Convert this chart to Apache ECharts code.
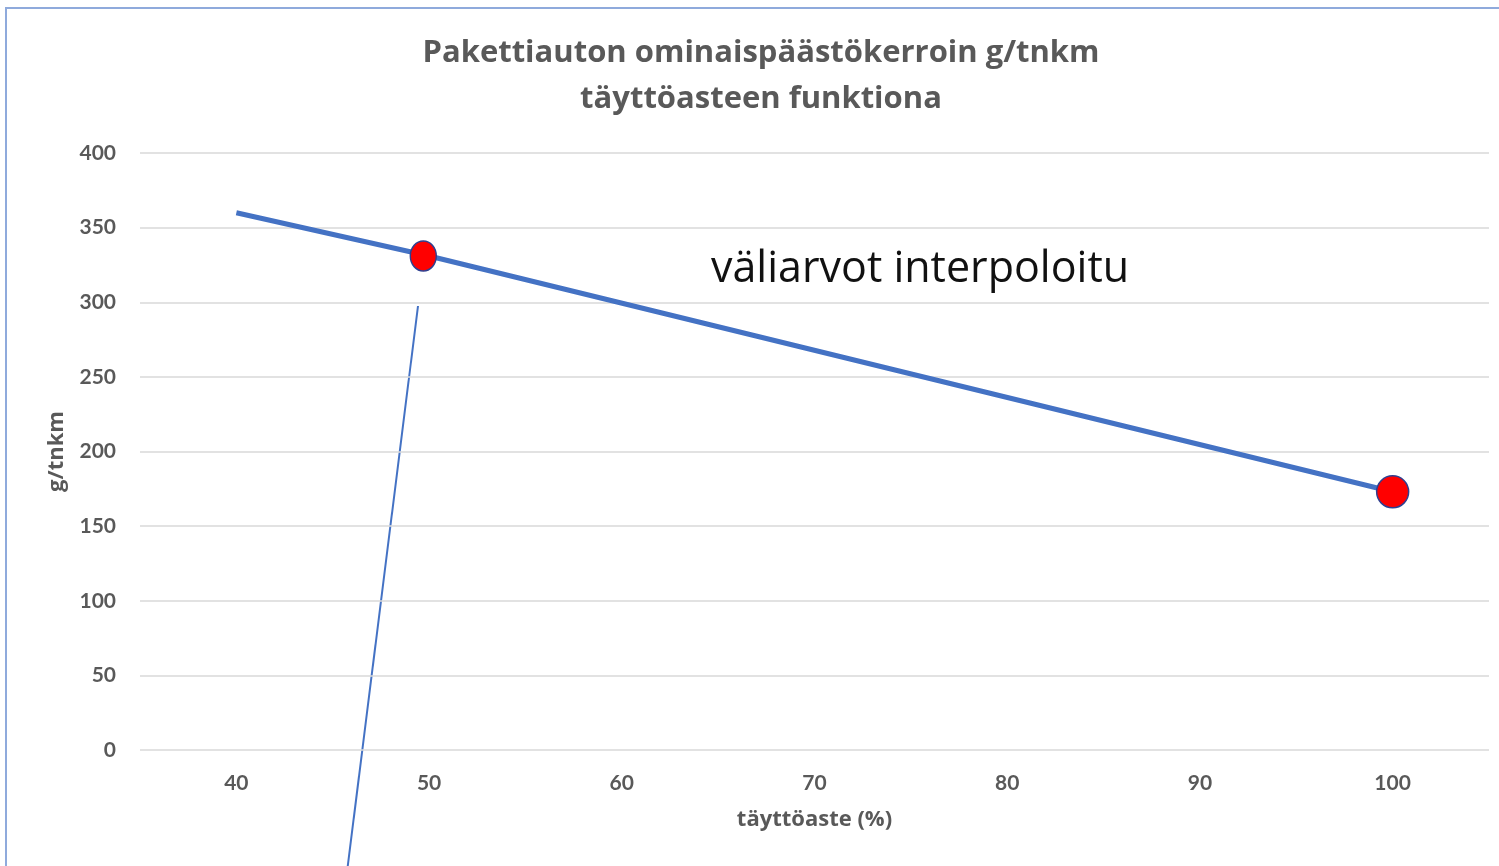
<!DOCTYPE html>
<html>
<head>
<meta charset="utf-8">
<script src="https://cdn.jsdelivr.net/npm/echarts@6/dist/echarts.min.js"></script>
<style>
  html, body { margin: 0; padding: 0; background: #fff; }
  #chart { width: 1499px; height: 866px; }
</style>
</head>
<body>
<div id="chart"></div>
<script>
// data
const fillRate = [40, 50, 100];          // täyttöaste (%)
const emission = [360, 331, 173];        // g/tnkm
const pointRate = [49.7, 100];           // highlighted points
const pointEmission = [331, 173];
const pointSizes = [[26, 30], [32, 32]];
const xTicks = [40, 50, 60, 70, 80, 90, 100];

const grey = '#595959';
const blue = '#4472C4';
const font = 'Lato';
const wide = 'Open Sans';

const chart = echarts.init(document.getElementById('chart'));

const option = {
    animation: false,
    title: {
        text: 'Pakettiauton ominaispäästökerroin g/tnkm\ntäyttöasteen funktiona',
        left: 756,
        textAlign: 'center',
        top: 25,
        textStyle: {
            color: grey,
            fontFamily: wide,
            fontWeight: 'bold',
            fontSize: 31,
            lineHeight: 46
        }
    },
    grid: { left: 140, right: 10, top: 153, bottom: 116 },
    xAxis: {
        type: 'value',
        min: 35,
        max: 105,
        interval: 5,
        name: 'täyttöaste (%)',
        nameLocation: 'middle',
        nameGap: 59,
        nameTextStyle: { color: grey, fontFamily: wide, fontWeight: 'bold', fontSize: 22 },
        axisLine: { show: false },
        axisTick: { show: false },
        splitLine: { show: false },
        axisLabel: {
            margin: 23,
            color: grey,
            fontFamily: font,
            fontWeight: 'bold',
            fontSize: 21,
            formatter: v => xTicks.includes(v) ? String(v) : ''
        }
    },
    yAxis: {
        type: 'value',
        min: 0,
        max: 400,
        interval: 50,
        name: 'g/tnkm',
        nameLocation: 'middle',
        nameGap: 72,
        nameTextStyle: { color: grey, fontFamily: wide, fontWeight: 'bold', fontSize: 22 },
        axisLine: { show: false },
        axisTick: { show: false },
        splitLine: { lineStyle: { color: '#d9d9d9', width: 1.5 } },
        axisLabel: {
            margin: 24,
            color: grey,
            fontFamily: font,
            fontWeight: 'bold',
            fontSize: 21
        }
    },
    series: [
        {
            type: 'line',
            data: fillRate.map((x, i) => [x, emission[i]]),
            showSymbol: false,
            symbol: 'none',
            lineStyle: { color: blue, width: 5 },
            z: 2
        },
        {
            type: 'scatter',
            data: pointRate.map((x, i) => ({ value: [x, pointEmission[i]], symbolSize: pointSizes[i] })),
            itemStyle: { color: '#ff0000', opacity: 1, borderColor: '#2f3f8f', borderWidth: 1.5 },
            z: 3
        }
    ],
    graphic: [
        {
            type: 'rect',
            shape: { x: 6, y: 8, width: 1600, height: 1000 },
            style: { fill: null, stroke: '#8faadc', lineWidth: 2 },
            silent: true
        },
        {
            type: 'text',
            left: 711,
            top: 248,
            style: {
                text: 'väliarvot interpoloitu',
                fill: '#111',
                font: '43px "Open Sans"'
            }
        },
        {
            type: 'line',
            shape: { x1: 418, y1: 306, x2: 346, y2: 880 },
            style: { stroke: blue, lineWidth: 2 },
            silent: true
        }
    ]
};

chart.setOption(option);
</script>
</body>
</html>
